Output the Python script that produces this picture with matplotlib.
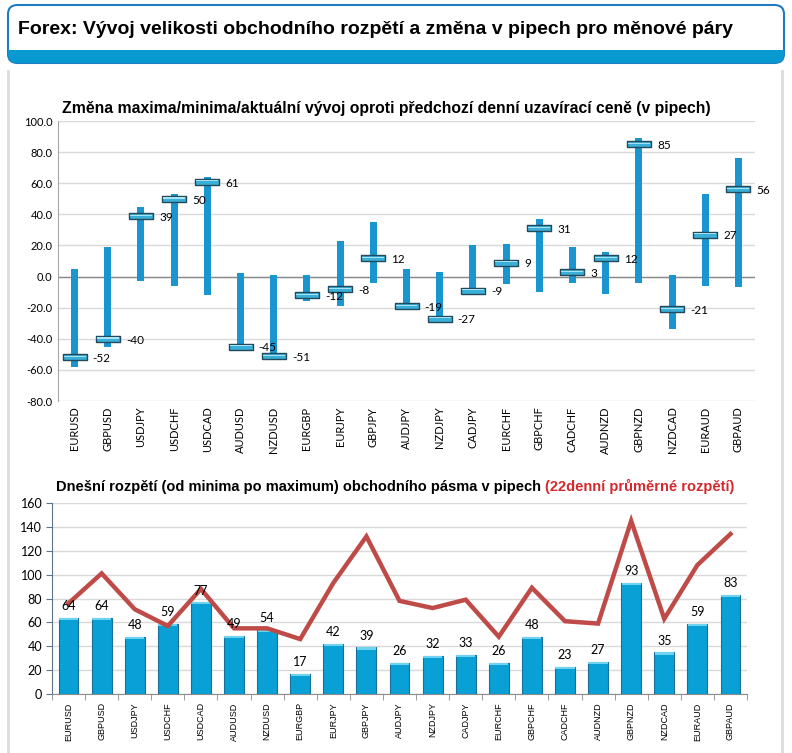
import numpy as np
import matplotlib
matplotlib.use('Agg')
import matplotlib.pyplot as plt
from matplotlib.patches import FancyBboxPatch, Rectangle
from matplotlib.lines import Line2D

# currency pairs
pairs = ['EURUSD', 'GBPUSD', 'USDJPY', 'USDCHF', 'USDCAD', 'AUDUSD', 'NZDUSD',
         'EURGBP', 'EURJPY', 'GBPJPY', 'AUDJPY', 'NZDJPY', 'CADJPY', 'EURCHF',
         'GBPCHF', 'CADCHF', 'AUDNZD', 'GBPNZD', 'NZDCAD', 'EURAUD', 'GBPAUD']

# top chart: change vs previous daily close (pips)
high_chg = [5, 19, 45, 53, 64, 2, 1, 1, 23, 35, 5, 3, 20, 21, 37, 19, 16, 89, 1, 53, 76]
low_chg = [-58, -45, -3, -6, -12, -47, -53, -16, -19, -4, -21, -29, -12, -5, -10, -4, -11, -4, -34, -6, -7]
current_chg = [-52, -40, 39, 50, 61, -45, -51, -12, -8, 12, -19, -27, -9, 9, 31, 3, 12, 85, -21, 27, 56]

# bottom chart: today's range and 22-day average range (pips)
today_range = [64, 64, 48, 59, 77, 49, 54, 17, 42, 39, 26, 32, 33, 26, 48, 23, 27, 93, 35, 59, 83]
avg_range_22d = [76, 101, 71, 57, 88, 55, 55, 46, 93, 132, 78, 72, 79, 48, 89, 61, 59, 145, 63, 108, 134]

W, H = 792, 753
fig = plt.figure(figsize=(W / 100, H / 100), dpi=100)
fig.patch.set_facecolor('white')

def fx(px):
    return px / W

def fy(px):
    return 1 - px / H

# header box
box = FancyBboxPatch((fx(8), fy(63)), fx(776), 58 / H,
                     boxstyle='round,pad=0,rounding_size=0.012',
                     transform=fig.transFigure, facecolor='white',
                     edgecolor='#1f7cc0', linewidth=1.5, zorder=1)
fig.patches.append(box)
band = Rectangle((fx(8), fy(63)), fx(776), 13 / H, transform=fig.transFigure,
                 facecolor='#0899d0', edgecolor='none', zorder=2)
band.set_clip_path(box)
fig.patches.append(band)
fig.text(fx(18), fy(29), 'Forex: Vývoj velikosti obchodního rozpětí a změna v pipech pro měnové páry',
         fontsize=14, fontweight='bold', family='Liberation Sans', va='center', ha='left')

# panel side borders
for xp in (8, 782):
    fig.lines.append(Line2D([fx(xp), fx(xp)], [fy(71), 0], transform=fig.transFigure,
                            color='#dcdcdc', linewidth=2))

x = np.arange(len(pairs))
blue = '#1996cf'

# ---- top chart
ax1 = fig.add_axes([fx(58), fy(401), fx(697), 280 / H])
ax1.bar(x, np.array(high_chg) - np.array(low_chg), bottom=low_chg, width=0.21,
        color=blue, zorder=3)
marker = [(-1, -0.24), (1, -0.24), (1, 0.24), (-1, 0.24), (-1, -0.24)]
ax1.scatter(x, current_chg, marker=marker, s=300, facecolor='#3ab0d8',
            edgecolor='#22495c', linewidth=1.0, zorder=4)
highlight = [(-1, 0.02), (1, 0.02), (1, 0.12), (-1, 0.12), (-1, 0.02)]
ax1.scatter(x, current_chg, marker=highlight, s=250, facecolor='#a6e3f4',
            edgecolor='none', zorder=5)
for xi, v in zip(x, current_chg):
    ax1.annotate(str(v), (xi, v), xytext=(13, -1), textcoords='offset points',
                 va='center', ha='left', fontsize=8.5, family='Lato', zorder=6)
ax1.set_xlim(-0.5, len(pairs) - 0.5)
ax1.set_ylim(-80, 100)
ax1.set_yticks(np.arange(-80, 101, 20))
ax1.set_yticklabels([f'{v:.1f}' for v in np.arange(-80, 101, 20)], fontsize=8, family='Lato')
ax1.set_xticks(x)
ax1.set_xticklabels(pairs, rotation=90, fontsize=8, family='Lato')
ax1.tick_params(axis='both', length=0, pad=4)
ax1.grid(axis='y', color='#d9d9d9', linewidth=1)
ax1.axhline(0, color='#8a8a8a', linewidth=1, zorder=2)
ax1.set_axisbelow(True)
for s in ('top', 'right', 'bottom'):
    ax1.spines[s].set_visible(False)
ax1.spines['left'].set_color('#a6a6a6')
fig.text(fx(62), fy(108), 'Změna maxima/minima/aktuální vývoj oproti předchozí denní uzavírací ceně (v pipech)',
         fontsize=11.3, fontweight='bold', family='Liberation Sans', va='center', ha='left')

# ---- bottom chart
ax2 = fig.add_axes([fx(52), fy(694), fx(695), 191 / H])
ax2.bar(x, today_range, width=0.6, color='#09a0d6', edgecolor='#17709a', linewidth=0.8, zorder=3)
ax2.bar(x, 2, bottom=np.array(today_range) - 2, width=0.58, color='#6fd3f0',
        edgecolor='none', zorder=4)
ax2.plot(x, avg_range_22d, color='#be4b48', linewidth=3.2, zorder=5, solid_joinstyle='miter')
for xi, v in zip(x, today_range):
    ax2.annotate(str(v), (xi, v), xytext=(0, 4), textcoords='offset points',
                 va='bottom', ha='center', fontsize=9, family='Lato', zorder=6)
ax2.set_xlim(-0.5, len(pairs) - 0.5)
ax2.set_ylim(0, 160)
ax2.set_yticks(np.arange(0, 161, 20))
ax2.set_yticklabels([str(v) for v in range(0, 161, 20)], fontsize=9, family='Lato')
ax2.set_xticks(x)
ax2.set_xticklabels(pairs, rotation=90, fontsize=6.5, family='Liberation Sans')
ax2.set_xticks(np.arange(-0.5, len(pairs), 1), minor=True)
ax2.tick_params(axis='x', which='major', length=0, pad=6)
ax2.tick_params(axis='x', which='minor', length=4, color='#8c8c8c', direction='out')
ax2.tick_params(axis='y', length=4, color='#5c7388', direction='out', pad=3)
ax2.grid(axis='y', color='#d9d9d9', linewidth=1)
ax2.set_axisbelow(True)
for s in ('top', 'right'):
    ax2.spines[s].set_visible(False)
ax2.spines['left'].set_color('#5c7388')
ax2.spines['bottom'].set_color('#8c8c8c')

# subtitle in two colours
t1 = fig.text(fx(56), fy(487), 'Dnešní rozpětí (od minima po maximum) obchodního pásma v pipech ',
              fontsize=10.5, fontweight='bold', family='Liberation Sans', va='center', ha='left')
ax2.annotate('(22denní průměrné rozpětí)', xy=(1, 0), xycoords=t1, va='bottom', ha='left',
             fontsize=10.5, fontweight='bold', family='Liberation Sans', color='#d42a2f',
             annotation_clip=False)

fig.savefig('out.png', dpi=100)
